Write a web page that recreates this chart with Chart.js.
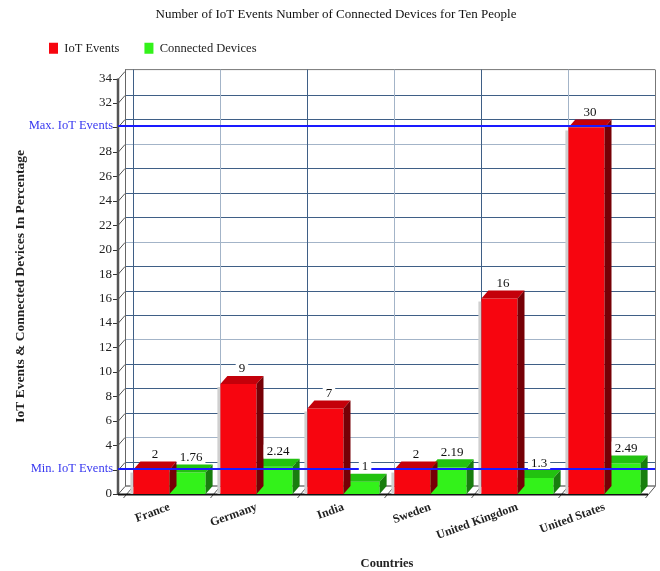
<!DOCTYPE html>
<html>
<head>
<meta charset="utf-8">
<script src="https://cdn.jsdelivr.net/npm/chart.js@4.4.1/dist/chart.umd.min.js"></script>
<style>
  html, body { margin: 0; padding: 0; background: #fff; }
  #wrap { width: 660px; height: 571px; }
</style>
</head>
<body>
<div id="wrap"><canvas id="iotChart" width="660" height="571"></canvas></div>
<script>
// Chart data
const countries = ['France', 'Germany', 'India', 'Sweden', 'United Kingdom', 'United States'];
const iotEvents = [2, 9, 7, 2, 16, 30];
const connectedDevices = [1.76, 2.24, 1, 2.19, 1.3, 2.49];
const yTicksMax = 34;
const yTicksStep = 2;

const FONT = "'Liberation Serif', 'Times New Roman', serif";

// 3D depth of the bars and walls
const DX = 7;
const DY = 8;

const maxIot = Math.max(...iotEvents);
const minIot = Math.min(...iotEvents);

// Face colours: front, top, side
const faces = [
    { front: '#f7050f', top: '#c4000a', side: '#760006' },
    { front: '#33f21a', top: '#22c210', side: '#187e0e' }
];

function line(ctx, x1, y1, x2, y2, color, width) {
    ctx.beginPath();
    ctx.strokeStyle = color;
    ctx.lineWidth = width || 1;
    ctx.moveTo(x1, y1);
    ctx.lineTo(x2, y2);
    ctx.stroke();
}

function poly(ctx, pts, color) {
    ctx.beginPath();
    ctx.moveTo(pts[0][0], pts[0][1]);
    for (let i = 1; i < pts.length; i++) ctx.lineTo(pts[i][0], pts[i][1]);
    ctx.closePath();
    ctx.fillStyle = color;
    ctx.fill();
}

const depthPlugin = {
    id: 'depth',
    afterInit(chart) {
        // push the plot area down a bit below the legend
        const legend = chart.legend;
        const fit = legend.fit;
        legend.fit = function () { fit.call(this); this.height += 14; };
    },
    beforeDatasetsDraw(chart) {
        const ctx = chart.ctx;
        const area = chart.chartArea;
        const ys = chart.scales.y;
        const F = area.left - 8;
        const B = area.left - 1;
        const topY = ys.getPixelForValue(yTicksMax);
        const n = countries.length;
        const dark = '#3f5f86';
        const light = '#a3b4c8';

        ctx.save();
        // back wall horizontal grid + left wall diagonals + tick marks
        ys.ticks.forEach((t, i) => {
            const y = Math.round(ys.getPixelForValue(t.value)) + 0.5;
            if (t.value !== 0 && t.value !== yTicksMax) {
                line(ctx, B, y - DY, area.right + DX, y - DY, (i % 4 === 2) ? light : dark, 1);
            }
            line(ctx, F, y, B, y - DY, '#555', 1);
            line(ctx, F - 5, y, F, y, '#333', 1);
        });
        // floor back line and top border
        line(ctx, B, area.bottom - DY, area.right + DX, area.bottom - DY, '#333', 1);
        line(ctx, B, topY - DY - 1, area.right + DX, topY - DY - 1, '#777', 1);

        // vertical back grid at category boundaries
        const step = (area.right - area.left) / n;
        for (let i = 0; i <= n; i++) {
            const x = Math.round(area.left + i * step + DX) + 0.5;
            const col = i === n ? '#777' : (i % 2 === 1 ? light : dark);
            line(ctx, x, topY - DY - 1, x, area.bottom - DY, col, 1);
            // floor diagonals
            line(ctx, x - DX - 3, area.bottom + 4, x, area.bottom - DY, '#555', 1);
        }

        // left wall: back line and front axis
        line(ctx, B + 0.5, topY - DY - 1, B + 0.5, area.bottom - DY, '#666', 1);
        line(ctx, F, topY, F, area.bottom, '#555', 2.5);
        // floor front line
        line(ctx, F, area.bottom + 0.5, area.right, area.bottom + 0.5, '#111', 2);

        // light shadow left of the red bars
        chart.getDatasetMeta(0).data.forEach(bar => {
            const x0 = bar.x - bar.width / 2;
            ctx.fillStyle = '#cfcfcf';
            ctx.fillRect(x0 - 3, bar.y + 3, 3, bar.base - bar.y - 3);
        });
        ctx.restore();
    },
    afterDatasetDraw(chart, args) {
        const ctx = chart.ctx;
        const c = faces[args.index];
        ctx.save();
        args.meta.data.forEach(bar => {
            const x0 = bar.x - bar.width / 2;
            const x1 = bar.x + bar.width / 2;
            poly(ctx, [[x0, bar.y], [x0 + DX, bar.y - DY], [x1 + DX, bar.y - DY], [x1, bar.y]], c.top);
            poly(ctx, [[x1, bar.y], [x1 + DX, bar.y - DY], [x1 + DX, bar.base - DY], [x1, bar.base]], c.side);
        });
        ctx.restore();
    },
    afterDatasetsDraw(chart) {
        const ctx = chart.ctx;
        const area = chart.chartArea;
        const ys = chart.scales.y;
        const F = area.left - 8;
        ctx.save();

        // max / min reference lines
        ctx.font = '12.5px ' + FONT;
        ctx.textAlign = 'right';
        ctx.textBaseline = 'middle';
        [[maxIot, 'Max. IoT Events'], [minIot, 'Min. IoT Events']].forEach(([v, label]) => {
            const y = Math.round(ys.getPixelForValue(v)) - 1;
            line(ctx, F, y, area.right + DX, y, '#1a1aff', 2);
            ctx.fillStyle = '#3838f0';
            ctx.fillText(label, F - 5, y);
        });

        // value labels above each bar
        ctx.font = '13px ' + FONT;
        ctx.textAlign = 'center';
        chart.data.datasets.forEach((ds, di) => {
            chart.getDatasetMeta(di).data.forEach((bar, i) => {
                const text = String(ds.data[i]);
                const cx = bar.x + DX / 2;
                const cy = bar.y - DY - 7;
                const w = ctx.measureText(text).width + 6;
                ctx.fillStyle = '#fff';
                ctx.fillRect(cx - w / 2, cy - 7, w, 13);
                ctx.fillStyle = '#111';
                ctx.fillText(text, cx, cy);
            });
        });
        ctx.restore();
    }
};

const ctx = document.getElementById('iotChart');
new Chart(ctx, {
    type: 'bar',
    data: {
        labels: countries,
        datasets: [{
            label: 'IoT Events',
            data: iotEvents,
            backgroundColor: faces[0].front,
            borderWidth: 0,
            categoryPercentage: 0.83,
            barPercentage: 1
        }, {
            label: 'Connected Devices',
            data: connectedDevices,
            backgroundColor: faces[1].front,
            borderWidth: 0,
            categoryPercentage: 0.83,
            barPercentage: 1
        }]
    },
    options: {
        responsive: false,
        animation: false,
        layout: { padding: { left: 24, right: 12, top: 0, bottom: 0 } },
        plugins: {
            title: {
                display: true,
                text: 'Number of IoT Events Number of Connected Devices for Ten People',
                color: '#111',
                font: { family: FONT, size: 13, weight: 'normal' },
                padding: { top: 6.5, bottom: -5 }
            },
            legend: {
                position: 'top',
                align: 'start',
                labels: {
                    boxWidth: 9,
                    boxHeight: 11,
                    padding: 25,
                    color: '#222',
                    font: { family: FONT, size: 12.5 }
                }
            },
            tooltip: { enabled: false }
        },
        scales: {
            x: {
                grid: { display: false, drawTicks: false },
                border: { display: false },
                ticks: {
                    minRotation: 20,
                    maxRotation: 20,
                    padding: 6,
                    color: '#222',
                    font: { family: FONT, size: 12, weight: 'bold' }
                },
                title: {
                    display: true,
                    text: 'Countries',
                    color: '#222',
                    font: { family: FONT, size: 12.5, weight: 'bold' },
                    padding: { top: 0, bottom: 0 }
                },
                afterFit: s => { s.height = 77; }
            },
            y: {
                min: 0,
                max: yTicksMax,
                grid: { display: false, drawTicks: false },
                border: { display: false },
                ticks: {
                    stepSize: yTicksStep,
                    padding: 14,
                    color: '#222',
                    font: { family: FONT, size: 13 },
                    callback: v => (v === maxIot || v === minIot) ? '' : v
                },
                title: {
                    display: true,
                    text: 'IoT Events & Connected Devices In Percentage',
                    color: '#222',
                    font: { family: FONT, size: 13.5, weight: 'bold' },
                    padding: { top: -12, bottom: 0 }
                },
                afterFit: s => { s.width = 102; }
            }
        }
    },
    plugins: [depthPlugin]
});
</script>
</body>
</html>
